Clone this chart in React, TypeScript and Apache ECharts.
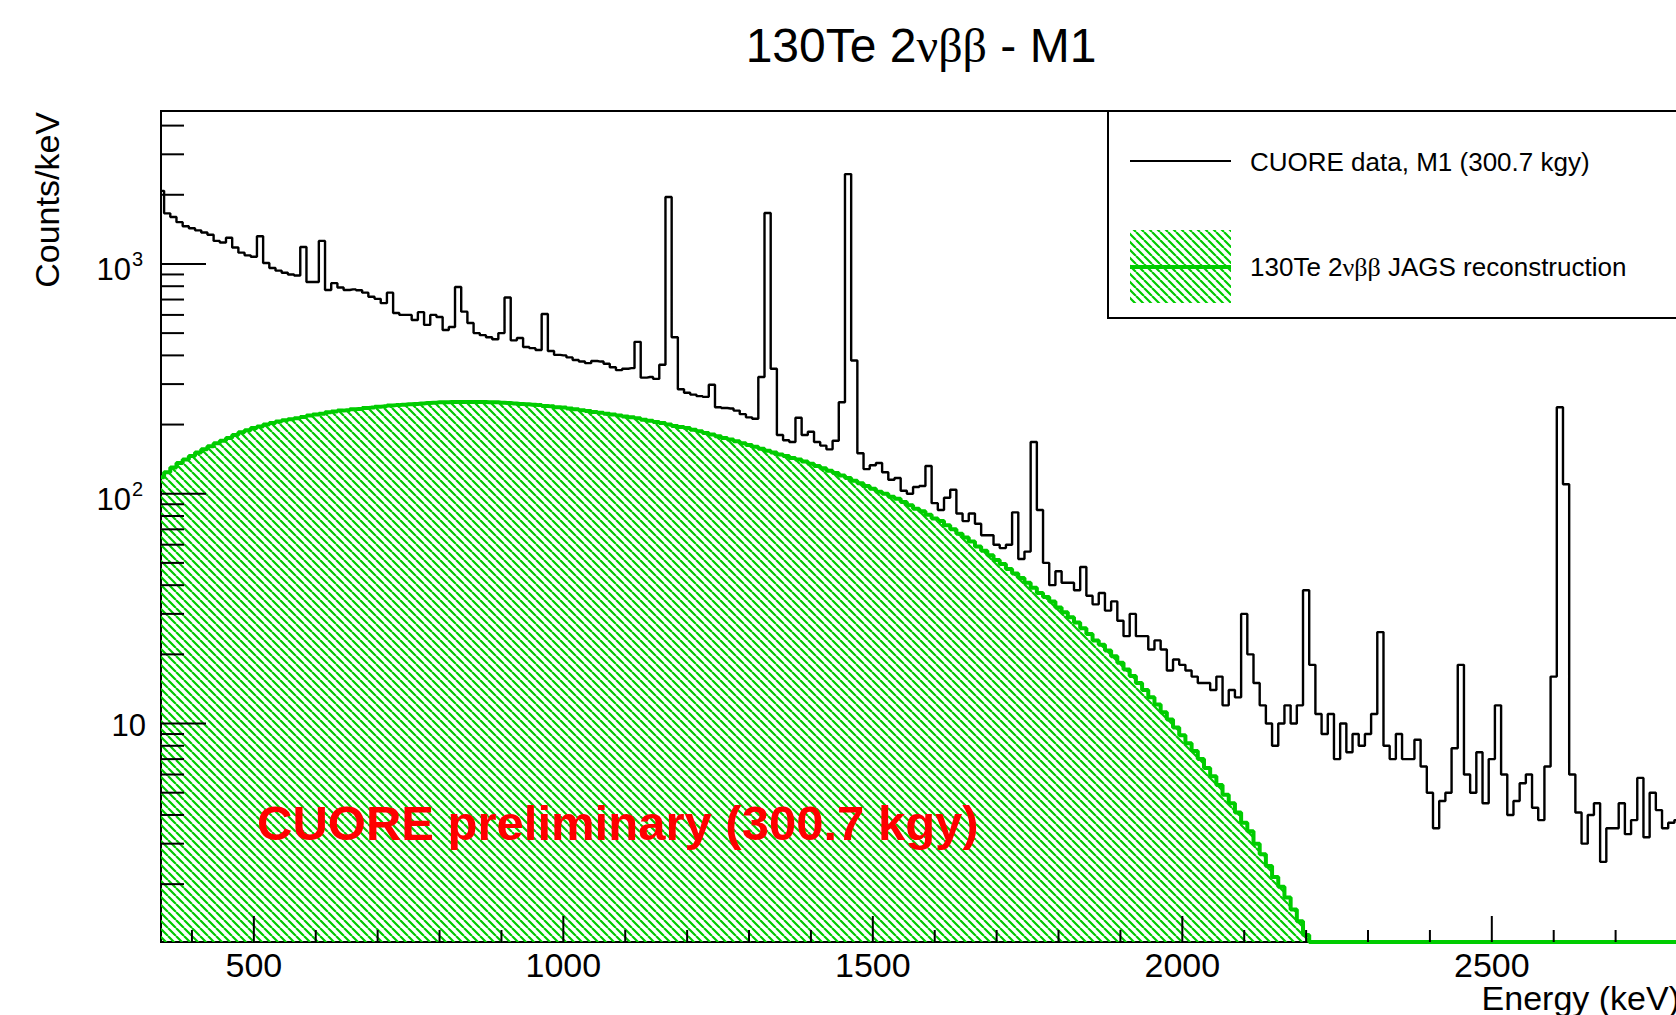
import React, { useEffect, useRef } from "react";
import * as echarts from "echarts";

// ---------- data (bin centres every 10 keV from 350 keV) ----------
const E_START = 350;
const BIN_WIDTH = 10;

// CUORE data, M1 (counts/keV), bins centred at 350, 360, ... 2800 keV
const DATA_COUNTS = [
  2080, 1660, 1600, 1520, 1460, 1430, 1400, 1370, 1340, 1260,
  1240, 1300, 1180, 1120, 1090, 1075, 1320, 1010, 960, 935,
  915, 900, 890, 1185, 835, 835, 1260, 770, 825, 790,
  770, 775, 768, 750, 720, 705, 675, 750, 612, 600,
  600, 570, 617, 543, 600, 588, 516, 532, 794, 620,
  553, 500, 490, 480, 470, 500, 714, 465, 476, 435,
  430, 422, 606, 418, 402, 400, 392, 382, 376, 370,
  378, 376, 368, 355, 345, 350, 352, 458, 320, 322,
  316, 364, 1957, 480, 285, 275, 270, 266, 264, 298,
  238, 236, 235, 230, 222, 215, 212, 322, 1667, 350,
  180, 171, 168, 214, 180, 186, 168, 162, 156, 170,
  250, 2460, 380, 150, 128, 133, 136, 124, 115, 117,
  103, 100, 107, 108, 132, 91, 85, 96, 104, 82,
  76, 82, 74, 66, 66, 60, 58, 60, 83, 52,
  56, 168, 85, 50, 40, 46, 41, 41, 38, 48,
  36, 33, 37, 31, 34, 28, 24, 30, 24, 24,
  21, 23, 21, 17, 19, 18, 17, 16, 15, 15,
  14, 16, 12, 14, 13, 30, 20, 15, 12, 10,
  8, 10, 12, 10, 12, 38, 18, 11, 9, 11,
  7, 10, 7.5, 9, 8, 9, 11, 25, 8, 7,
  9, 7, 7, 8.5, 6.5, 5, 3.5, 4.6, 5, 7.8,
  18, 6, 5, 7.5, 4.5, 7, 12, 6, 4, 4.6,
  5.5, 6, 4.3, 3.8, 6.5, 16, 238, 110, 6, 4.1,
  3.0, 4, 4.5, 2.5, 3.5, 3.5, 4.5, 3.3, 3.8, 5.8,
  3.2, 5, 4.2, 3.5, 3.7, 3.8,
];

// 130Te 2vbb JAGS reconstruction (counts/keV), same bins; 0 = empty bin
const TE_COUNTS = [
  118, 124, 130, 136, 141, 146, 151, 156, 161, 166,
  170, 175, 180, 185, 189, 193, 196, 200, 203, 206,
  209, 211, 213, 216, 219, 221, 223, 226, 228, 230,
  231, 233, 234, 236, 237, 239, 240, 242, 243, 244,
  245, 246, 247, 248, 249, 250, 250, 251, 251, 251,
  251, 251, 251, 250, 250, 249, 248, 247, 246, 245,
  244, 243, 241, 240, 238, 237, 235, 233, 231, 229,
  227, 225, 223, 221, 219, 217, 215, 213, 210, 208,
  205, 203, 200, 197, 195, 193, 190, 187, 184, 181,
  178, 175, 172, 169, 166, 163, 160, 157, 154, 151,
  148, 146, 143, 141, 138, 135, 132, 129, 126, 123,
  120, 117, 114, 111, 108, 105, 102, 100, 97, 95,
  92, 89, 86, 84, 81, 78, 76, 73, 70, 67,
  64.5, 62, 59, 56.5, 54, 51.5, 49.5, 47, 45, 43,
  41, 39, 37, 35.5, 34, 32, 30.5, 29, 27.5, 26,
  24.5, 23, 22, 20.8, 19.6, 18.4, 17.2, 16.1, 15.0, 14.0,
  13.0, 12.1, 11.2, 10.4, 9.6, 8.9, 8.2, 7.6, 7.0, 6.4,
  5.9, 5.4, 4.9, 4.5, 4.1, 3.7, 3.4, 3.0, 2.7, 2.4,
  2.15, 1.95, 1.75, 1.55, 1.38, 1.2, 0, 0, 0, 0,
  0, 0, 0, 0, 0, 0, 0, 0, 0, 0,
  0, 0, 0, 0, 0, 0, 0, 0, 0, 0,
  0, 0, 0, 0, 0, 0, 0, 0, 0, 0,
  0, 0, 0, 0, 0, 0, 0, 0, 0, 0,
  0, 0, 0, 0, 0, 0, 0, 0, 0, 0,
  0, 0, 0, 0, 0, 0,
];

// axes
const X_MIN = 350;
const X_MAX = 2800;
const Y_MIN = 1.12;
const Y_MAX = 4630;
const X_MAJOR_TICKS = [500, 1000, 1500, 2000, 2500];
const X_TICK_LABELS = ["500", "1000", "1500", "2000", "2500"];
const X_MINOR_STEP = 100;
const Y_MAJOR_TICKS = [10, 100, 1000];
const Y_LABEL_BASE = ["10", "10", "10"];
const Y_LABEL_EXP = ["", "2", "3"];
const Y_DECADES = [1, 10, 100, 1000];

const TITLE_A = "130Te 2";
const TITLE_G = "\u03bd\u03b2\u03b2";
const TITLE_B = " - M1";
const LEGEND_DATA = "CUORE data, M1 (300.7 kgy)";
const LEGEND_TE_A = "130Te 2";
const LEGEND_TE_B = " JAGS reconstruction";
const PRELIM = "CUORE preliminary (300.7 kgy)";
const Y_NAME = "Counts/keV";
const X_NAME = "Energy (keV)";

const GREEN = "#00cc00";
const SANS = "'Liberation Sans', Arial, Helvetica, sans-serif";
const SERIF = "'Liberation Serif', 'DejaVu Serif', serif";

function makeHatch(): HTMLCanvasElement {
  const s = 8;
  const c = document.createElement("canvas");
  c.width = s;
  c.height = s;
  const ctx = c.getContext("2d");
  if (ctx) {
    ctx.strokeStyle = GREEN;
    ctx.lineWidth = 2.2;
    ctx.beginPath();
    for (const k of [-1, 0, 1]) {
      ctx.moveTo(k * s, 0);
      ctx.lineTo(k * s + s, s);
    }
    ctx.stroke();
  }
  return c;
}

export default function App() {
  const ref = useRef<HTMLDivElement>(null);

  useEffect(() => {
    if (!ref.current) return;
    const chart = echarts.init(ref.current, undefined, { renderer: "svg" });

    const hatch = { image: makeHatch(), repeat: "repeat" } as any;

    const dataSeries = DATA_COUNTS.map((v, i) => [E_START + i * BIN_WIDTH, v]);
    const teSeries = TE_COUNTS.map((v, i) => [E_START + i * BIN_WIDTH, v > 0 ? v : Y_MIN]);

    const xMinor: number[] = [];
    for (let v = Math.ceil(X_MIN / X_MINOR_STEP) * X_MINOR_STEP; v <= X_MAX; v += X_MINOR_STEP) {
      if (X_MAJOR_TICKS.indexOf(v) < 0) xMinor.push(v);
    }
    const yMinor: number[] = [];
    Y_DECADES.forEach((d) => {
      for (let m = 2; m <= 9; m++) {
        const v = m * d;
        if (v > Y_MIN && v < Y_MAX) yMinor.push(v);
      }
    });

    const yTickData = [
      ...Y_MAJOR_TICKS.map((v) => [X_MIN, v, 1]),
      ...yMinor.map((v) => [X_MIN, v, 0]),
    ];
    const xTickData = [
      ...X_MAJOR_TICKS.map((v) => [v, Y_MIN, 1]),
      ...xMinor.map((v) => [v, Y_MIN, 0]),
    ];

    const option: any = {
      animation: false,
      backgroundColor: "#ffffff",
      grid: {
        left: 161,
        top: 111,
        right: 12.5,
        bottom: 73,
        show: true,
        borderColor: "#000",
        borderWidth: 2,
        backgroundColor: "transparent",
        containLabel: false,
        outerBoundsMode: "none",
      },
      xAxis: {
        type: "value",
        min: X_MIN,
        max: X_MAX,
        axisLine: { show: false },
        axisTick: { show: false },
        axisLabel: { show: false },
        splitLine: { show: false },
      },
      yAxis: {
        type: "log",
        logBase: 10,
        min: Y_MIN,
        max: Y_MAX,
        axisLine: { show: false },
        axisTick: { show: false },
        axisLabel: { show: false },
        splitLine: { show: false },
      },
      series: [
        {
          name: "te",
          type: "line",
          step: "middle",
          data: teSeries,
          symbol: "none",
          clip: false,
          lineStyle: { color: GREEN, width: 4 },
          areaStyle: { color: hatch, origin: "start", opacity: 1 },
          z: 2,
          silent: true,
        },
        {
          name: "data",
          type: "line",
          step: "middle",
          data: dataSeries,
          symbol: "none",
          lineStyle: { color: "#000", width: 2.4 },
          z: 3,
          silent: true,
        },
        {
          type: "custom",
          data: yTickData,
          clip: false,
          z: 10,
          silent: true,
          renderItem: (_p: any, api: any) => {
            const pt = api.coord([api.value(0), api.value(1)]);
            const len = api.value(2) === 1 ? 45 : 23;
            return {
              type: "line",
              shape: { x1: pt[0], y1: pt[1], x2: pt[0] + len, y2: pt[1] },
              style: { stroke: "#000", lineWidth: 2 },
            };
          },
        },
        {
          type: "custom",
          data: xTickData,
          clip: false,
          z: 10,
          silent: true,
          renderItem: (_p: any, api: any) => {
            const pt = api.coord([api.value(0), api.value(1)]);
            const len = api.value(2) === 1 ? 26 : 12;
            return {
              type: "line",
              shape: { x1: pt[0], y1: pt[1], x2: pt[0], y2: pt[1] - len },
              style: { stroke: "#000", lineWidth: 2 },
            };
          },
        },
        {
          type: "custom",
          data: Y_MAJOR_TICKS.map((v, i) => [X_MIN, v, i]),
          clip: false,
          z: 10,
          silent: true,
          renderItem: (_p: any, api: any) => {
            const pt = api.coord([api.value(0), api.value(1)]);
            const i = api.value(2);
            const exp = Y_LABEL_EXP[i];
            if (!exp) {
              return {
                type: "text",
                x: pt[0] - 15,
                y: pt[1] + 2,
                style: {
                  text: Y_LABEL_BASE[i],
                  fill: "#000",
                  fontSize: 31,
                  fontFamily: SANS,
                  align: "right",
                  verticalAlign: "middle",
                },
              };
            }
            return {
              type: "group",
              children: [
                {
                  type: "text",
                  x: pt[0] - 30,
                  y: pt[1] + 6,
                  style: {
                    text: Y_LABEL_BASE[i],
                    fill: "#000",
                    fontSize: 31,
                    fontFamily: SANS,
                    align: "right",
                    verticalAlign: "middle",
                  },
                },
                {
                  type: "text",
                  x: pt[0] - 29,
                  y: pt[1] - 5,
                  style: {
                    text: exp,
                    fill: "#000",
                    fontSize: 20,
                    fontFamily: SANS,
                    align: "left",
                    verticalAlign: "middle",
                  },
                },
              ],
            };
          },
        },
        {
          type: "custom",
          data: X_MAJOR_TICKS.map((v, i) => [v, Y_MIN, i]),
          clip: false,
          z: 10,
          silent: true,
          renderItem: (_p: any, api: any) => {
            const pt = api.coord([api.value(0), api.value(1)]);
            return {
              type: "text",
              x: pt[0],
              y: pt[1] + 23,
              style: {
                text: X_TICK_LABELS[api.value(2)],
                fill: "#000",
                fontSize: 34,
                fontFamily: SANS,
                align: "center",
                verticalAlign: "middle",
              },
            };
          },
        },
      ],
      graphic: {
        elements: [
          {
            type: "text",
            x: 921,
            y: 45,
            z: 100,
            style: {
              text: `{a|${TITLE_A}}{g|${TITLE_G}}{a|${TITLE_B}}`,
              align: "center",
              verticalAlign: "middle",
              rich: {
                a: { fontSize: 48, fontFamily: SANS, fill: "#000" },
                g: { fontSize: 48, fontFamily: SERIF, fill: "#000" },
              },
            },
          },
          {
            type: "text",
            x: 47,
            y: 112,
            rotation: Math.PI / 2,
            z: 100,
            style: {
              text: Y_NAME,
              fill: "#000",
              fontSize: 34,
              fontFamily: SANS,
              align: "right",
              verticalAlign: "middle",
            },
          },
          {
            type: "text",
            x: 1680,
            y: 998,
            z: 100,
            style: {
              text: X_NAME,
              fill: "#000",
              fontSize: 34,
              fontFamily: SANS,
              align: "right",
              verticalAlign: "middle",
            },
          },
          {
            type: "text",
            x: 257,
            y: 823,
            z: 50,
            style: {
              text: PRELIM,
              fill: "#ff0000",
              fontSize: 49,
              fontWeight: "bold",
              fontFamily: SANS,
              align: "left",
              verticalAlign: "middle",
            },
          },
          {
            type: "rect",
            z: 100,
            shape: { x: 1108, y: 111, width: 620, height: 207 },
            style: { fill: "#fff", stroke: "#000", lineWidth: 2 },
          },
          {
            type: "line",
            z: 101,
            shape: { x1: 1130, y1: 161, x2: 1231, y2: 161 },
            style: { stroke: "#000", lineWidth: 2 },
          },
          {
            type: "rect",
            z: 101,
            shape: { x: 1130, y: 230, width: 101, height: 73 },
            style: { fill: hatch },
          },
          {
            type: "line",
            z: 102,
            shape: { x1: 1130, y1: 267, x2: 1231, y2: 267 },
            style: { stroke: GREEN, lineWidth: 4 },
          },
          {
            type: "text",
            x: 1250,
            y: 162,
            z: 102,
            style: {
              text: LEGEND_DATA,
              fill: "#000",
              fontSize: 26,
              fontFamily: SANS,
              align: "left",
              verticalAlign: "middle",
            },
          },
          {
            type: "text",
            x: 1250,
            y: 267,
            z: 102,
            style: {
              text: `{a|${LEGEND_TE_A}}{g|${TITLE_G}}{a|${LEGEND_TE_B}}`,
              align: "left",
              verticalAlign: "middle",
              rich: {
                a: { fontSize: 26, fontFamily: SANS, fill: "#000" },
                g: { fontSize: 26, fontFamily: SERIF, fill: "#000" },
              },
            },
          },
        ],
      },
    };

    chart.setOption(option);
    return () => {
      chart.dispose();
    };
  }, []);

  return (
    <div
      style={{
        position: "fixed",
        left: 0,
        top: 0,
        width: 1676,
        height: 1015,
        overflow: "hidden",
        background: "#fff",
      }}
    >
      <div ref={ref} style={{ width: 1690, height: 1015 }} />
    </div>
  );
}
